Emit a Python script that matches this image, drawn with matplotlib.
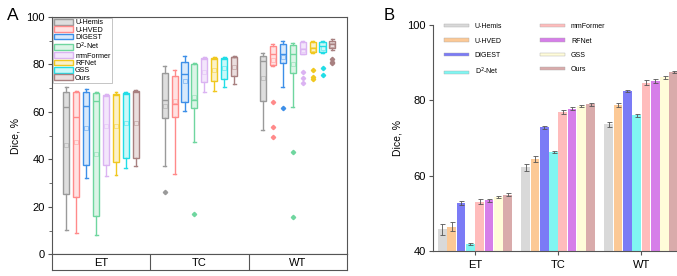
import numpy as np
import matplotlib
matplotlib.use("Agg")
import matplotlib.pyplot as plt
from matplotlib.patches import Patch

plt.rcParams['font.family'] = ['Liberation Sans', 'DejaVu Sans']

# -- DATA -------------------------------------------------------------------------
methods = ["U-Hemis", "U-HVED", "DIGEST", "D$^2$-Net", "mmFormer", "RFNet", "GSS", "Ours"]
regions = ["ET", "TC", "WT"]

# box plot stats per region, per method: (whislo, q1, med, q3, whishi, mean)
box_et = [(10.2, 25.6, 62.0, 68.4, 70.5, 46.2),
          (8.8, 24.2, 57.8, 68.5, 69.0, 47.2),
          (32.2, 37.5, 62.3, 68.4, 69.6, 53.2),
          (8.3, 16.1, 64.8, 68.0, 68.6, 42.4),
          (32.9, 37.5, 66.8, 67.2, 67.6, 53.9),
          (33.3, 38.9, 67.0, 67.6, 68.4, 54.0),
          (36.4, 40.6, 67.5, 68.0, 68.6, 55.3),
          (37.1, 40.6, 68.2, 68.8, 69.2, 55.3)]
box_tc = [(37.4, 57.3, 65.1, 76.6, 79.4, 62.3),
          (34.0, 57.8, 63.3, 75.2, 77.7, 64.5),
          (60.6, 64.3, 75.9, 81.2, 83.6, 73.2),
          (47.5, 61.6, 65.1, 80.1, 80.8, 66.5),
          (68.4, 72.6, 82.3, 82.6, 83.1, 77.0),
          (68.9, 73.1, 82.1, 82.7, 83.2, 77.5),
          (70.5, 73.9, 82.1, 82.8, 83.3, 78.5),
          (71.7, 75.2, 83.0, 83.3, 83.6, 79.0)]
box_wt = [(52.5, 64.6, 81.3, 83.6, 84.7, 74.2),
          (79.3, 79.8, 84.3, 87.8, 88.5, 82.0),
          (70.7, 80.5, 84.5, 88.7, 89.9, 83.0),
          (62.2, 76.3, 84.3, 88.0, 88.9, 80.0),
          (84.3, 84.5, 86.5, 89.5, 90.0, 86.0),
          (84.9, 85.2, 87.0, 89.4, 90.0, 86.5),
          (85.0, 85.3, 87.7, 89.5, 90.0, 87.0),
          (86.2, 86.8, 88.7, 90.0, 90.6, 88.0)]
fliers_et = [[], [], [], [], [], [], [], []]
fliers_tc = [[26.2], [], [], [17.1], [], [], [], []]
fliers_wt = [[], [64.4, 53.6, 49.6], [61.6], [43.0, 15.7],
             [77.0, 74.1, 72.1], [77.6, 74.6, 73.8], [78.4, 75.6], [82.2, 81.1, 80.6]]

# bar chart means and error per region
bar_et = [45.9, 46.6, 52.8, 41.9, 53.2, 53.6, 54.5, 55.0]
bar_tc = [62.3, 64.6, 72.9, 66.4, 77.0, 77.8, 78.5, 79.0]
bar_wt = [73.7, 78.8, 82.6, 76.1, 84.7, 85.2, 86.1, 87.6]
err_et = [1.4, 1.2, 0.5, 0.3, 0.6, 0.4, 0.2, 0.4]
err_tc = [0.9, 0.8, 0.4, 0.3, 0.6, 0.4, 0.2, 0.4]
err_wt = [0.6, 0.6, 0.3, 0.4, 0.6, 0.5, 0.3, 0.3]

# -- STYLES -----------------------------------------------------------------------
box_edge = ["#9a9a9a", "#ff8a8a", "#3d8fe8", "#6fd69f", "#dbb3f2", "#f0c820", "#22dde6", "#a88080"]
box_fill = ["#dedede", "#ffe2e2", "#d8e9fb", "#dcf4e7", "#f3e6fb", "#fbf1c9", "#ccf8f8", "#eadede"]
bar_color = ["#d9d9d9", "#fcc996", "#7b7bf6", "#80f6f2", "#ffbcbc", "#d67ee9", "#fffcd9", "#d9abab"]
spine_c = "#555555"

fig = plt.figure(figsize=(6.77, 2.76), dpi=100)

# -- PANEL A: box plots -----------------------------------------------------------
axA = fig.add_axes([0.0768, 0.0783, 0.4355, 0.8601])
n = len(methods)
offsets = (np.arange(n) - (n - 1) / 2) * 0.101
for g, (boxes, fls) in enumerate(zip([box_et, box_tc, box_wt], [fliers_et, fliers_tc, fliers_wt])):
    for i in range(n):
        lo, q1, med, q3, hi, mean = boxes[i]
        st = dict(whislo=lo, q1=q1, med=med, q3=q3, whishi=hi, mean=mean, fliers=fls[i])
        ec = box_edge[i]
        axA.bxp([st], positions=[g + offsets[i]], widths=0.062, patch_artist=True,
                showmeans=True, showfliers=True,
                boxprops=dict(facecolor=box_fill[i], edgecolor=ec, linewidth=1.0),
                medianprops=dict(color=ec, linewidth=1.0),
                whiskerprops=dict(color=ec, linewidth=1.0),
                capprops=dict(color=ec, linewidth=1.0),
                capwidths=0.03,
                meanprops=dict(marker="s", markersize=3, markerfacecolor="none",
                               markeredgecolor=ec, markeredgewidth=0.5, alpha=0.6),
                flierprops=dict(marker="D", markersize=2.2, markerfacecolor=ec,
                                markeredgecolor=ec))

axA.set_xlim(-0.5, 2.5)
axA.set_ylim(0, 100)
axA.set_yticks([0, 20, 40, 60, 80, 100])
axA.set_yticks([10, 30, 50, 70, 90], minor=True)
axA.set_xticks([])
axA.tick_params(axis="y", labelsize=8, direction="out", length=3, color=spine_c, pad=2)
axA.tick_params(axis="y", which="minor", length=2, color=spine_c)
for sp in axA.spines.values():
    sp.set_color(spine_c)
axA.set_ylabel("Dice, %", fontsize=7.5, labelpad=4)

handlesA = [Patch(facecolor=box_fill[i], edgecolor=box_edge[i], linewidth=1.0, label=m)
            for i, m in enumerate(methods)]
legA = axA.legend(handles=handlesA, loc="upper left", bbox_to_anchor=(0.0, 1.0),
                  fontsize=5.2, handlelength=2.7, handleheight=0.85, handletextpad=0.25,
                  labelspacing=0.0, borderpad=0.15, borderaxespad=0.1, frameon=True,
                  fancybox=False, framealpha=1)
legA.get_frame().set_edgecolor("#bbbbbb")
legA.get_frame().set_linewidth(0.6)

# category band under panel A
band = fig.add_axes([0.0768, 0.0217, 0.4355, 0.0566])
band.set_xlim(-0.5, 2.5)
band.set_ylim(0, 1)
band.set_xticks([])
band.set_yticks([])
for sp in band.spines.values():
    sp.set_color(spine_c)
for b in [0.5, 1.5]:
    band.axvline(b, color=spine_c, linewidth=0.8)
for g, r in enumerate(regions):
    band.text(g, 0.45, r, ha="center", va="center", fontsize=8)

fig.text(0.011, 0.945, "A", fontsize=12.5, ha="left", va="center")

# -- PANEL B: bar chart -----------------------------------------------------------
axB = fig.add_axes([0.6396, 0.0888, 0.3604, 0.8207])
x = np.arange(len(regions))
bw = 0.112
for i in range(n):
    vals = [bar_et[i], bar_tc[i], bar_wt[i]]
    errs = [err_et[i], err_tc[i], err_wt[i]]
    pos = x + (i - (n - 1) / 2) * bw
    axB.bar(pos, vals, width=bw * 0.94, color=bar_color[i], yerr=errs,
            error_kw=dict(ecolor="#555555", elinewidth=0.6, capsize=1.8, capthick=0.6),
            label=methods[i], zorder=2)

axB.set_xlim(-0.506, 2.43)
axB.set_ylim(40, 100)
axB.set_yticks([40, 60, 80, 100])
axB.set_xticks(x)
axB.set_xticklabels(regions, fontsize=8)
axB.tick_params(axis="y", labelsize=8, direction="out", length=3, color=spine_c, pad=2)
axB.tick_params(axis="x", direction="out", length=3, color=spine_c, pad=3)
axB.spines["top"].set_visible(False)
axB.spines["right"].set_visible(False)
axB.spines["left"].set_color(spine_c)
axB.spines["bottom"].set_color(spine_c)
axB.set_ylabel("Dice, %", fontsize=7.5, labelpad=4)

handlesB = [Patch(facecolor=bar_color[i], edgecolor="#aaaaaa", linewidth=0.3, label=m)
            for i, m in enumerate(methods)]
axB.legend(handles=handlesB, loc="upper left", bbox_to_anchor=(0.02, 1.035), ncol=2,
           fontsize=5, handlelength=3.6, handleheight=0.35, handletextpad=0.8,
           labelspacing=1.05, columnspacing=5.5, frameon=False)

fig.text(0.567, 0.945, "B", fontsize=12, ha="left", va="center")

fig.savefig("out.png", dpi=100)
